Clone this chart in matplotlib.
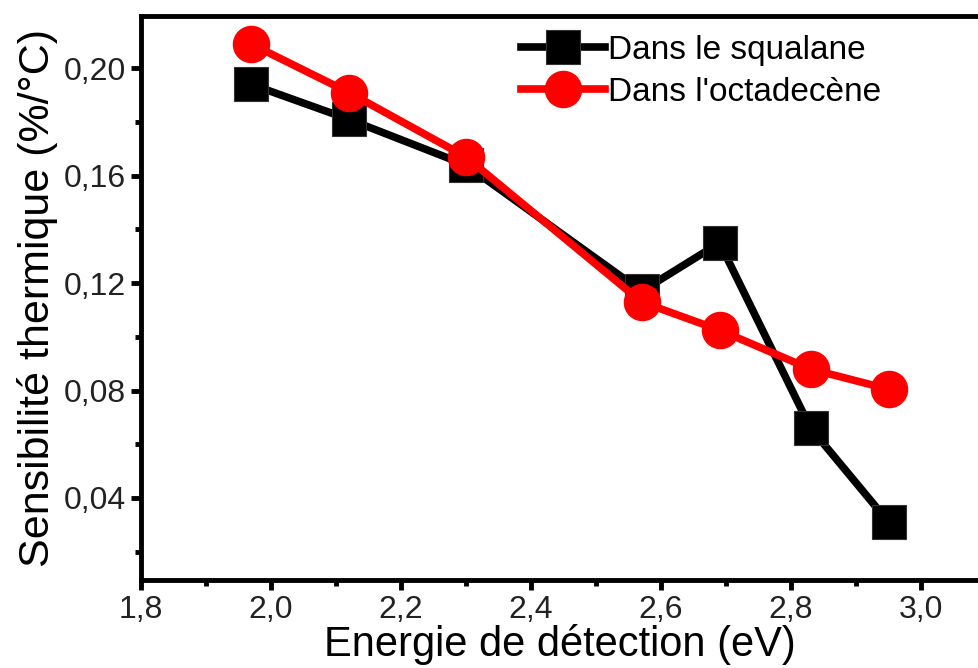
import numpy as np
import matplotlib.pyplot as plt
from matplotlib.ticker import MultipleLocator, FuncFormatter

plt.rcParams['font.family'] = ['Liberation Sans', 'DejaVu Sans']

# data
energie = [1.97, 2.12, 2.30, 2.57, 2.69, 2.83, 2.95]
squalane = [0.194, 0.181, 0.164, 0.117, 0.135, 0.066, 0.031]
octadecene = [0.209, 0.191, 0.167, 0.113, 0.1025, 0.088, 0.0805]

fig = plt.figure(figsize=(9.79, 6.68), dpi=100)
ax = fig.add_axes([0.144, 0.132, 0.856, 0.844])

ax.plot(energie, squalane, color='black', lw=5.5, marker='s', ms=25,
        mec='#333333', mew=0.8, label='Dans le squalane')
ax.plot(energie, octadecene, color='red', lw=5.5, marker='o', ms=26,
        mec='red', label="Dans l'octadecène")

ax.set_xlim(1.8, 3.089)
ax.set_ylim(0.0095, 0.2195)
ax.xaxis.set_major_locator(MultipleLocator(0.2))
ax.xaxis.set_minor_locator(MultipleLocator(0.1))
ax.yaxis.set_major_locator(MultipleLocator(0.04))
ax.yaxis.set_minor_locator(MultipleLocator(0.02))
ax.xaxis.set_major_formatter(FuncFormatter(lambda v, p: f'{v:.1f}'.replace('.', ',')))
ax.yaxis.set_major_formatter(FuncFormatter(lambda v, p: f'{v:.2f}'.replace('.', ',')))

for s in ['left', 'bottom', 'top']:
    ax.spines[s].set_linewidth(3.5)
ax.spines['right'].set_visible(False)
ax.tick_params(which='major', direction='out', length=7, width=3.5, labelsize=23,
               labelcolor='#222222', pad=4)
ax.tick_params(which='minor', direction='out', length=4, width=3.5)

ax.set_xlabel('Energie de détection (eV)', fontsize=30, labelpad=-1)
ax.set_ylabel('Sensibilité thermique (%/°C)', fontsize=31, labelpad=4)

leg = ax.legend(loc='upper left', bbox_to_anchor=(0.418, 1.02), frameon=False,
                fontsize=24, handlelength=2.5, handletextpad=0.1,
                labelspacing=0.33, markerscale=1.0)

plt.savefig('out.png', dpi=100)
